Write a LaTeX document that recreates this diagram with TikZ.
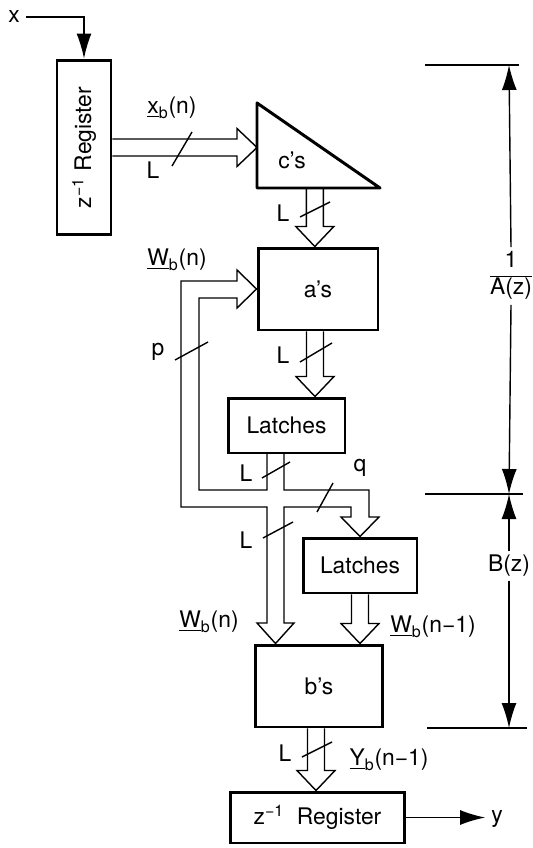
\documentclass[tikz,border=0pt]{standalone}
\usepackage{fontspec}
\setmainfont{TeX Gyre Heros}
\usetikzlibrary{arrows.meta, calc}
\tikzset{blk/.style={draw, line width=1.7pt, inner sep=0pt},
 buswire/.style={line width=0.8pt, line join=miter},
 buscut/.style={line width=0.8pt},
 dimline/.style={line width=0.8pt},
 sigarrow/.style={-{Latex[length=5mm,width=3mm]}}}
\newcommand{\busarrow}[2]{%
 \coordinate (hb) at ($(#2)!0.4cm!(#1)$);
 \draw[buswire] ($(#1)!0.17cm!90:(#2)$) -- ($(hb)!0.17cm!90:(#2)$) -- ($(hb)!0.38cm!90:(#2)$) -- (#2) -- ($(hb)!0.38cm!-90:(#2)$) -- ($(hb)!0.17cm!-90:(#2)$) -- ($(#1)!0.17cm!-90:(#2)$);}

\begin{document}
\begin{tikzpicture}[x=0.02cm, y=-0.02cm, font=\fontsize{13}{15}\selectfont]
\useasboundingbox (0,0) rectangle (533,848);
\node[blk, minimum width=1.08cm, minimum height=3.5cm] (reg1) at (84,147.5) {\rotatebox{90}{z\textsuperscript{−1} Register}};
\coordinate (c1) at (257,103);
\coordinate (c2) at (257,188);
\coordinate (c3) at (380,188);
\draw[line width=1.7pt, line join=round] (c1) -- (c2) -- (c3) -- cycle;
\node (cs) at (292,160) {c’s};
\node[blk, minimum width=2.4cm, minimum height=1.64cm] (as) at (318,289) {a’s};
\node[blk, minimum width=2.34cm, minimum height=1.1cm] (lat1) at (286.5,425.5) {Latches};
\node[blk, minimum width=2.28cm, minimum height=1.1cm] (lat2) at (360,565.5) {Latches};
\node[blk, minimum width=2.56cm, minimum height=1.64cm] (bs) at (319,686) {b’s};
\node[blk, minimum width=3.5cm, minimum height=1.02cm] (reg2) at (317.5,817.5) {z\textsuperscript{−1}\ \ Register};
\node (xin) at (14,17) {x};
\draw[dimline, sigarrow] (xin.east) -| (reg1.north);
\node (yout) at (497,819) {y};
\draw[dimline, sigarrow] (reg2.east) -- (reg2.east -| yout.west);
\coordinate (cin) at (reg1.east -| c1);
\busarrow{reg1.east}{cin}
\coordinate (cout) at ($(c2)!0.47!(c3)$);
\coordinate (ain) at (cout |- as.north);
\busarrow{cout}{ain}
\coordinate (aout) at ($(as.south)+(-3,0)$);
\coordinate (lin) at (aout |- lat1.north);
\busarrow{aout}{lin}
\coordinate (bin) at (lat2.south |- bs.north);
\busarrow{lat2.south}{bin}
\coordinate (bout) at ($(bs.south)+(-3,0)$);
\coordinate (rin) at (bout |- reg2.north);
\busarrow{bout}{rin}
\coordinate (wtip) at ($(bs.north)+(-43.5,0)$);
\draw[buswire] (267,453) -- (267,490) -- (199,490) -- (199,298) -- (237,298) -- (237,308) -- (as.west) -- (237,270) -- (237,281) -- (181,281) -- (181,507) -- (267,507) -- (267,623) -- (257,623) -- (wtip) -- (294,623) -- (284,623) -- (284,507) -- (351,507) -- (351,517) -- (341,517) -- (lat2.north) -- (379,517) -- (369,517) -- (369,490) -- (284,490) -- (284,453);
\draw[buscut] (172,166) -- (192,132);
\draw[buscut] (300,217) -- (330,202);
\draw[buscut] (300,362) -- (332,343);
\draw[buscut] (175,360) -- (208,342);
\draw[buscut] (262,478) -- (290,462);
\draw[buscut] (317,512) -- (333,483);
\draw[buscut] (263,538) -- (293,522);
\draw[buscut] (302,757) -- (332,742);
\node (xb) at (172,108) {\underline{x}\textsubscript{b}(n)};
\node (l1) at (153,170) {L};
\node (l2) at (283,213) {L};
\node (l3) at (283,355) {L};
\node (wtop) at (177,260) {\underline{W}\textsubscript{b}(n)};
\node (pl) at (158,352) {p};
\node (l4) at (246,473) {L};
\node (ql) at (360,468) {q};
\node (l5) at (246,540) {L};
\node (wn) at (209,622) {\underline{W}\textsubscript{b}(n)};
\node (wn1) at (433,627) {\underline{W}\textsubscript{b}(n−1)};
\node (l6) at (285,753) {L};
\node (yb) at (389,760) {\underline{Y}\textsubscript{b}(n−1)};
\coordinate (dt) at (509,65);
\coordinate (dm) at (509,494);
\coordinate (db) at (509,728);
\draw[dimline] (425,65) -- (519,65);
\draw[dimline] (425,494) -- (523,494);
\draw[dimline] (427,728) -- (527,728);
\node[inner sep=1pt] (afrac) at (511,276) {\begin{tabular}{@{}c@{}}1\\\hline A(z)\end{tabular}};
\draw[dimline, sigarrow] (afrac.north) -- (dt);
\draw[dimline, sigarrow] (afrac.south) -- (dm);
\node[inner sep=2pt] (bz) at (509,566) {B(z)};
\draw[dimline, sigarrow] (bz.north) -- (dm);
\draw[dimline, sigarrow] (bz.south) -- (db);
\end{tikzpicture}
\end{document}
